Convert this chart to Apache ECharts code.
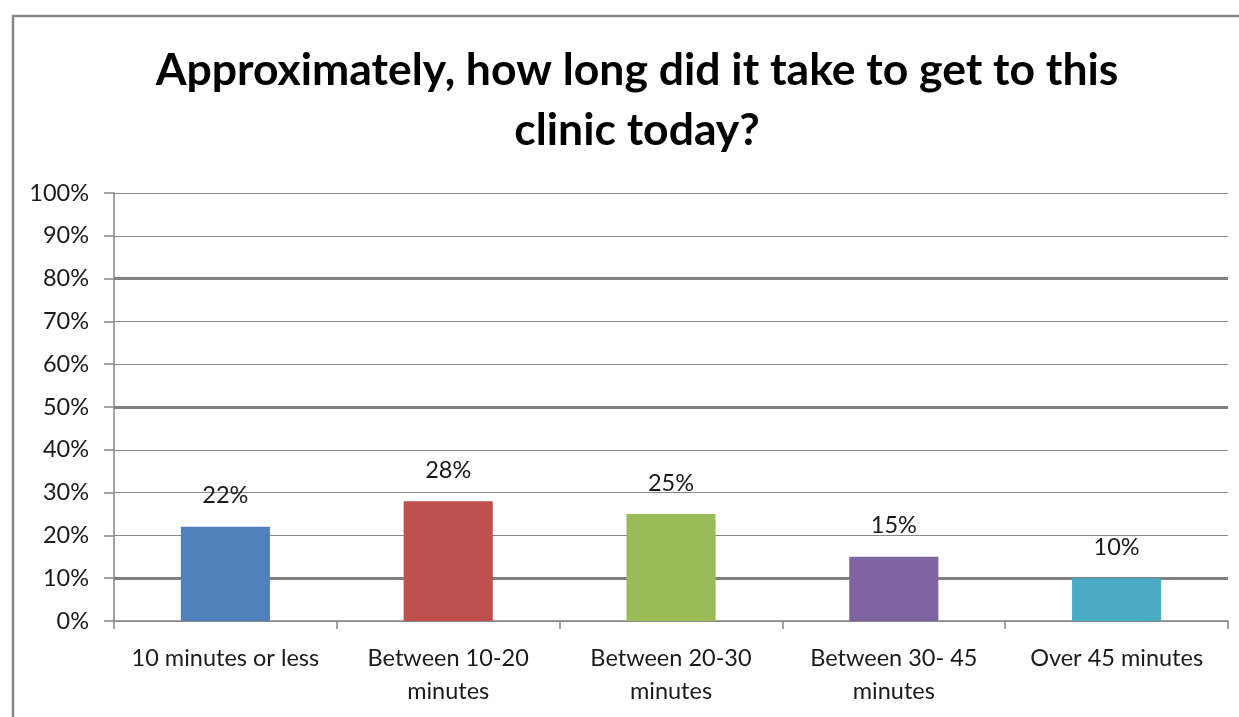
<!DOCTYPE html>
<html>
<head>
<meta charset="utf-8">
<style>
  html, body { margin: 0; padding: 0; background: #fff; }
  #chart { width: 1239px; height: 717px; }
</style>
<script src="https://cdn.jsdelivr.net/npm/echarts@6/dist/echarts.min.js"></script>
</head>
<body>
<div id="chart"></div>
<script>
// Survey answers: travel time to the clinic
const titleText = 'Approximately, how long did it take to get to this\nclinic today?';
const categories = [
  '10 minutes or less',
  'Between 10-20\nminutes',
  'Between 20-30\nminutes',
  'Between 30- 45\nminutes',
  'Over 45 minutes'
];
const shares = [22, 28, 25, 15, 10];
const barColors = ['#4F81BD', '#C0504D', '#9BBB59', '#8064A2', '#4BACC6'];
const heavyGridLevels = [10, 50, 80];

const font = 'Lato, "Liberation Sans", sans-serif';
const chart = echarts.init(document.getElementById('chart'), null, { renderer: 'canvas' });

chart.setOption({
  backgroundColor: '#fff',
  animation: false,
  graphic: [{
    type: 'rect',
    shape: { x: 13, y: 16, width: 1240, height: 720 },
    style: { fill: 'none', stroke: '#868686', lineWidth: 2.5 },
    silent: true
  }],
  title: {
    text: titleText,
    left: 632,
    top: 36,
    textAlign: 'center',
    textStyle: {
      fontFamily: font,
      fontWeight: 'bold',
      fontSize: 44.5,
      lineHeight: 60,
      color: '#000'
    }
  },
  grid: { left: 114, right: 11, top: 193, bottom: 96, containLabel: false },
  xAxis: {
    type: 'category',
    data: categories,
    axisLine: { show: true, lineStyle: { color: '#868686', width: 1.5 } },
    axisTick: { show: true, length: 8, lineStyle: { color: '#868686', width: 1.5 } },
    axisLabel: {
      margin: 21,
      fontFamily: font,
      fontSize: 23.5,
      lineHeight: 33,
      color: '#1a1a1a',
      interval: 0
    }
  },
  yAxis: {
    type: 'value',
    min: 0,
    max: 100,
    interval: 10,
    axisLine: { show: true, lineStyle: { color: '#868686', width: 1.5 } },
    axisTick: { show: true, length: 10, lineStyle: { color: '#868686', width: 1.5 } },
    axisLabel: {
      margin: 25,
      formatter: '{value}%',
      fontFamily: font,
      fontSize: 23.5,
      color: '#1a1a1a'
    },
    splitLine: { show: true, lineStyle: { color: '#8a8a8a', width: 1.2 } }
  },
  series: [{
    type: 'bar',
    data: shares.map((v, i) => ({ value: v, itemStyle: { color: barColors[i] } })),
    barWidth: '40%',
    label: {
      show: true,
      position: 'top',
      distance: 19,
      formatter: '{c}%',
      fontFamily: font,
      fontSize: 23.5,
      color: '#1a1a1a'
    },
    markLine: {
      silent: true,
      symbol: 'none',
      z: 1,
      label: { show: false },
      lineStyle: { color: '#808080', width: 3, type: 'solid' },
      data: heavyGridLevels.map(v => ({ yAxis: v }))
    }
  }]
});
</script>
</body>
</html>
